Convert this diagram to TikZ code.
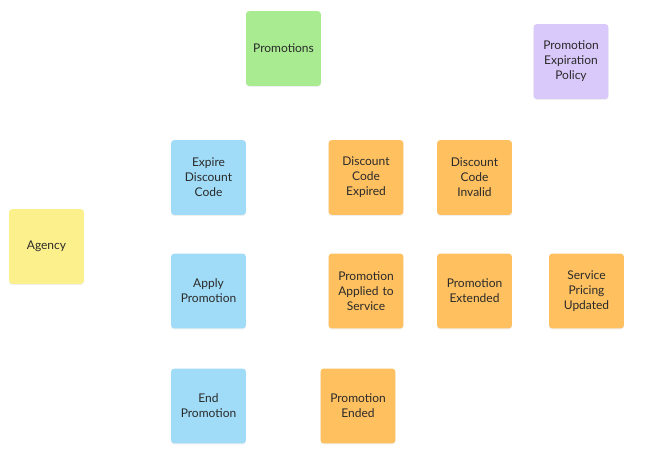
\documentclass[tikz,border=0pt]{standalone}
\usepackage{fontspec}
\setmainfont{Lato}
\usetikzlibrary{shadows}
\definecolor{sgreen}{HTML}{A8EB90}
\definecolor{spurple}{HTML}{D9C8FA}
\definecolor{syellow}{HTML}{FCF08C}
\definecolor{sblue}{HTML}{A0DCF8}
\definecolor{sorange}{HTML}{FFC060}
\definecolor{stext}{HTML}{2A2A2A}
\tikzset{
  sticky/.style={rectangle, rounded corners=2.2pt, minimum width=56pt, minimum height=56pt,
    inner sep=0pt, align=center, text width=52pt, text=stext,
    font=\fontsize{9}{11.25}\selectfont,
    drop shadow={opacity=0.12, shadow xshift=0pt, shadow yshift=-0.8pt}},
  command/.style={sticky, fill=sblue},
  event/.style={sticky, fill=sorange},
  aggregate/.style={sticky, fill=sgreen},
  policy/.style={sticky, fill=spurple},
  actor/.style={sticky, fill=syellow},
}
\begin{document}
\begin{tikzpicture}[x=0.75pt, y=-0.75pt]
\useasboundingbox[fill=white] (0,0) rectangle (662,460);
\node[aggregate] (promotions) at (283.5,48.5) {Promotions};
\node[policy] (policy) at (571,61.5) {Promotion\\Expiration\\Policy};
\node[actor] (agency) at (46.5,246.5) {Agency};
\node[command] (expire) at (208.5,177.5) {Expire\\Discount\\Code};
\node[command] (apply) at (208.5,291) {Apply\\Promotion};
\node[command] (endp) at (208.5,406) {End\\Promotion};
\node[event] (expired) at (366,177.5) {Discount\\Code\\Expired};
\node[event] (invalid) at (474.5,177.5) {Discount\\Code\\Invalid};
\node[event] (applied) at (366,291) {Promotion\\Applied to\\Service};
\node[event] (extended) at (474.5,291) {Promotion\\Extended};
\node[event] (pricing) at (586.5,291) {Service\\Pricing\\Updated};
\node[event] (ended) at (358,406) {Promotion\\Ended};
\end{tikzpicture}
\end{document}
